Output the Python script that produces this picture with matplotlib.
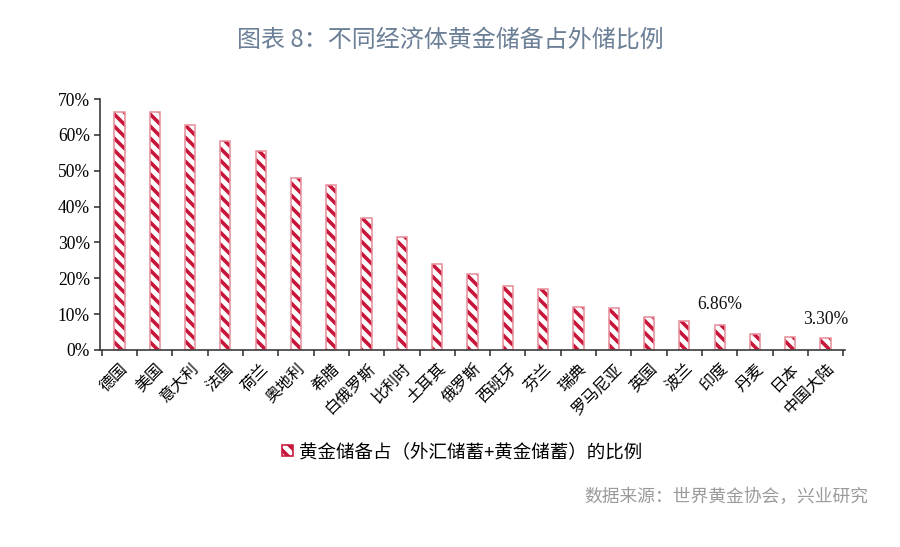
import matplotlib
matplotlib.use("Agg")
import matplotlib.pyplot as plt
from matplotlib.patches import Patch

DPI = 144
def pt(px):
    return px * 72.0 / DPI

countries = ["德国", "美国", "意大利", "法国", "荷兰", "奥地利", "希腊", "白俄罗斯", "比利时",
             "土耳其", "俄罗斯", "西班牙", "芬兰", "瑞典", "罗马尼亚", "英国", "波兰", "印度",
             "丹麦", "日本", "中国大陆"]
ratios = [66.4, 66.4, 62.8, 58.3, 55.5, 48.0, 46.0, 36.8, 31.5,
          24.0, 21.2, 17.8, 17.0, 12.0, 11.7, 9.2, 8.1, 6.86,
          4.5, 3.6, 3.30]
yticks = [0, 10, 20, 30, 40, 50, 60, 70]
legend_label = "黄金储备占（外汇储蓄+黄金储蓄）的比例"
annotated = {"印度": ("6.86%", 12), "中国大陆": ("3.30%", 10)}

CJK = ["Noto Sans CJK SC", "DejaVu Sans"]
SERIF = ["Liberation Serif", "DejaVu Serif"]

plt.rcParams["hatch.linewidth"] = 1.8

fig = plt.figure(figsize=(900 / DPI, 547 / DPI), dpi=DPI)
ax = fig.add_axes([100 / 900, 1 - 350 / 547, 745 / 900, 251 / 547])

hatch_color = "#C8163A"
edge_color = "#E8909C"
x = list(range(len(countries)))
w = 0.29
ax.bar(x, ratios, width=w, color="white", edgecolor=hatch_color, hatch="\\\\\\\\", linewidth=0)
ax.bar(x, ratios, width=w, color="none", edgecolor=edge_color, linewidth=0.8)

ax.set_ylim(0, 70)
ax.set_xlim(-0.55, len(countries) - 0.45)
ax.set_yticks(yticks)
ax.set_yticklabels([f"{v}%" for v in yticks], family=SERIF, fontsize=pt(17.5))
ax.tick_params(axis="y", direction="out", length=pt(6), width=0.8, color="#333333", pad=pt(4))

ax.set_xticks(x)
ax.set_xticklabels(countries, rotation=45, ha="right", rotation_mode="anchor",
                   family=CJK, fontsize=pt(16))
ax.set_xticks([i + 0.5 for i in range(-1, len(countries))], minor=True)
ax.tick_params(axis="x", which="major", length=0, pad=pt(10))
ax.tick_params(axis="x", which="minor", direction="out", length=pt(6), width=0.8, color="#333333")

for s in ["top", "right"]:
    ax.spines[s].set_visible(False)
for s in ["left", "bottom"]:
    ax.spines[s].set_color("#333333")
    ax.spines[s].set_linewidth(0.8)

for name, (txt, off) in annotated.items():
    i = countries.index(name)
    ax.annotate(txt, xy=(i, ratios[i]), xytext=(0, off),
                textcoords="offset pixels", ha="center", va="bottom",
                family=SERIF, fontsize=pt(17.5), color="#111111")

fig.text(0.5, 1 - 40 / 547, "图表 8：不同经济体黄金储备占外储比例", ha="center", va="center",
         family=CJK, fontsize=pt(24), color="#6B7F96")
fig.text(868 / 900, 1 - 497 / 547, "数据来源：世界黄金协会，兴业研究", ha="right", va="center",
         family=CJK, fontsize=pt(17.8), color="#9A9A9A")

handle = Patch(facecolor="white", edgecolor=hatch_color, hatch="\\\\\\\\", linewidth=0.8)
leg = fig.legend([handle], [legend_label], loc="center", bbox_to_anchor=(462 / 900, 1 - 452 / 547),
                 frameon=False, prop={"family": CJK, "size": pt(18.5)},
                 handlelength=0.6, handleheight=0.6, handletextpad=0.3)

fig.savefig("out.png", dpi=DPI)
